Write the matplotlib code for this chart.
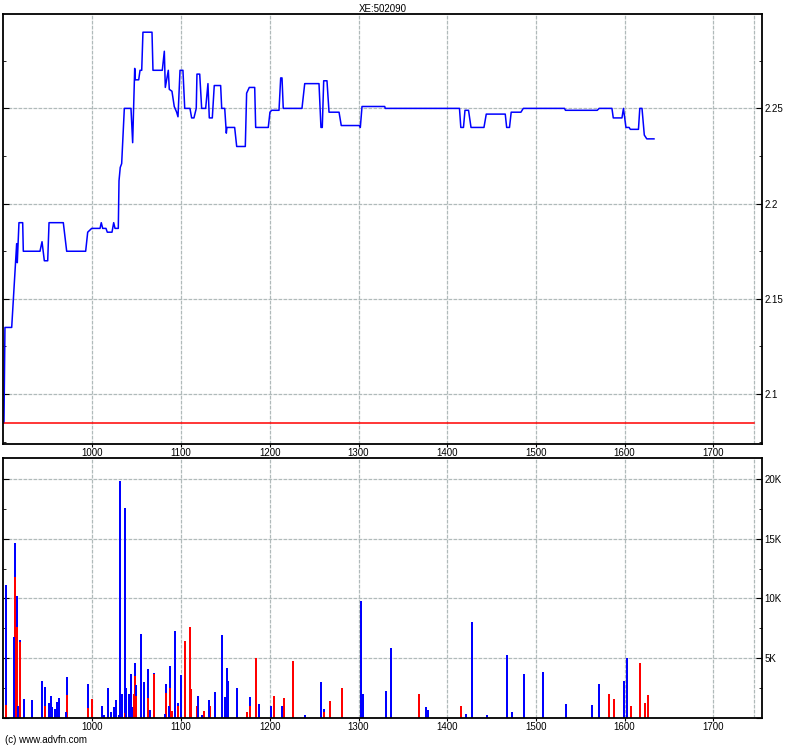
import numpy as np
import matplotlib.pyplot as plt
from matplotlib.ticker import MultipleLocator, FuncFormatter

# price line (x position, price)
price_x = [900.2, 901.3, 908.9, 914.5, 915.2, 917.1, 921.3, 922.0, 940.8, 943.1,
           945.7, 949.5, 951.0, 967.1, 970.9, 992.3, 994.6, 999.1, 1008.5, 1009.9,
           1011.5, 1015.2, 1016.7, 1022.0, 1023.9, 1025.4, 1029.1, 1029.9, 1031.3, 1032.9,
           1035.9, 1043.4, 1045.3, 1047.6, 1048.3, 1052.1, 1053.6, 1055.5, 1056.9, 1067.1,
           1068.2, 1078.7, 1081.0, 1082.1, 1085.5, 1086.6, 1089.6, 1092.2, 1094.9, 1096.4,
           1098.7, 1102.0, 1104.0, 1109.9, 1111.8, 1114.4, 1117.0, 1117.8, 1120.9, 1123.1,
           1127.6, 1130.2, 1131.7, 1135.1, 1137.3, 1144.5, 1145.7, 1149.1, 1150.9, 1151.6,
           1160.3, 1162.6, 1172.3, 1173.8, 1176.8, 1182.9, 1184.0, 1198.2, 1200.1, 1202.0,
           1210.3, 1212.2, 1213.7, 1215.1, 1236.2, 1239.3, 1255.4, 1257.6, 1259.1, 1260.7,
           1264.4, 1266.7, 1278.0, 1280.5, 1300.8, 1302.0, 1303.9, 1329.5, 1330.1, 1413.8,
           1415.3, 1418.3, 1420.0, 1424.0, 1426.8, 1441.4, 1444.0, 1465.4, 1467.0, 1470.2,
           1472.1, 1483.1, 1485.7, 1532.2, 1533.3, 1569.1, 1571.3, 1585.7, 1587.2, 1597.0,
           1598.7, 1601.5, 1605.1, 1606.4, 1615.6, 1617.1, 1619.6, 1622.2, 1625.0, 1633.1]
price_y = [2.085, 2.135, 2.135, 2.179, 2.169, 2.19, 2.19, 2.175, 2.175, 2.18,
           2.17, 2.17, 2.19, 2.19, 2.175, 2.175, 2.185, 2.187, 2.187, 2.19,
           2.187, 2.187, 2.185, 2.185, 2.19, 2.187, 2.187, 2.212, 2.219, 2.221,
           2.25, 2.25, 2.232, 2.271, 2.265, 2.265, 2.27, 2.27, 2.29, 2.29,
           2.27, 2.27, 2.28, 2.261, 2.27, 2.26, 2.259, 2.251, 2.248, 2.2456,
           2.27, 2.27, 2.25, 2.25, 2.245, 2.245, 2.25, 2.268, 2.268, 2.25,
           2.25, 2.263, 2.245, 2.245, 2.262, 2.262, 2.25, 2.25, 2.237, 2.24,
           2.24, 2.23, 2.23, 2.258, 2.261, 2.261, 2.24, 2.24, 2.248, 2.249,
           2.249, 2.266, 2.266, 2.25, 2.25, 2.263, 2.263, 2.24, 2.24, 2.2645,
           2.2645, 2.248, 2.248, 2.241, 2.241, 2.24, 2.251, 2.251, 2.25, 2.25,
           2.24, 2.24, 2.249, 2.249, 2.24, 2.24, 2.247, 2.247, 2.24, 2.24,
           2.248, 2.248, 2.25, 2.25, 2.249, 2.249, 2.25, 2.25, 2.245, 2.245,
           2.25, 2.24, 2.24, 2.239, 2.239, 2.25, 2.25, 2.236, 2.234, 2.234]
prev_close = 2.0846

# volume bars: red part at the bottom, blue part stacked on top
vol_x = [902.8, 911.9, 913.0, 915.2, 916.4, 918.6, 923.1, 932.2, 943.4, 946.8,
         951.3, 953.6, 954.7, 958.1, 960.3, 961.9, 970.5, 971.6, 995.3, 999.8,
         1011.1, 1013.3, 1017.8, 1021.2, 1024.6, 1026.9, 1030.3, 1031.4, 1033.6, 1036.6,
         1038.1, 1041.5, 1043.8, 1044.9, 1047.2, 1048.3, 1049.4, 1055.1, 1058.4, 1062.9,
         1065.2, 1069.7, 1082.1, 1083.2, 1086.6, 1087.8, 1090.0, 1093.4, 1096.8, 1100.2,
         1104.7, 1110.3, 1111.4, 1117.4, 1118.6, 1123.1, 1126.1, 1131.7, 1132.9, 1138.5,
         1146.4, 1149.0, 1150.1, 1152.0, 1153.2, 1163.3, 1174.6, 1178.0, 1184.7, 1188.1,
         1201.6, 1205.0, 1213.3, 1216.3, 1226.4, 1240.0, 1258.0, 1261.4, 1268.2, 1281.7,
         1303.1, 1305.4, 1331.3, 1336.9, 1368.5, 1376.4, 1378.6, 1415.8, 1421.5, 1428.2,
         1445.1, 1467.7, 1473.3, 1486.9, 1508.3, 1534.2, 1563.5, 1571.4, 1582.7, 1588.3,
         1599.6, 1603.0, 1607.5, 1617.6, 1623.3, 1626.7]
vol_red = [1064, 0, 11788, 7588, 0, 6384, 0, 0, 0, 980,
           0, 0, 0, 0, 0, 0, 0, 1904, 784, 1596,
           0, 0, 0, 0, 0, 0, 0, 0, 0, 364,
           0, 0, 0, 0, 1988, 3500, 1820, 0, 0, 1680,
           0, 3640, 0, 2044, 0, 2520, 588, 0, 980, 0,
           6440, 7616, 2408, 980, 0, 0, 560, 0, 980, 0,
           0, 0, 0, 0, 0, 0, 476, 980, 5012, 0,
           0, 1820, 0, 1652, 4760, 0, 0, 476, 1400, 2492,
           0, 0, 0, 0, 1988, 0, 0, 980, 0, 0,
           0, 0, 0, 0, 0, 0, 0, 0, 1988, 1568,
           0, 0, 980, 4592, 1232, 1904]
vol_blue = [10080, 6748, 2856, 2632, 980, 140, 1540, 1484, 3108, 1596,
            1260, 1820, 868, 756, 1344, 1652, 476, 1512, 2044, 0,
            980, 224, 2492, 476, 924, 1484, 196, 19852, 1988, 17192,
            2492, 1988, 3668, 924, 0, 1064, 924, 7028, 2996, 2408,
            644, 140, 308, 784, 980, 1820, 0, 7280, 224, 3584,
            0, 0, 0, 0, 1820, 224, 0, 1484, 0, 2156,
            6944, 1736, 644, 4172, 3080, 2492, 0, 756, 0, 1148,
            980, 0, 980, 0, 0, 224, 2996, 252, 0, 0,
            9800, 1988, 2240, 5852, 0, 896, 644, 0, 308, 8036,
            224, 5264, 476, 3668, 3836, 1148, 1064, 2828, 0, 0,
            3080, 5012, 0, 0, 0, 0]

x_ticks = [1000, 1100, 1200, 1300, 1400, 1500, 1600, 1700]
x_end = 1746

plt.rcParams['font.family'] = ['Liberation Sans', 'DejaVu Sans']
plt.rcParams['font.size'] = 7

fig = plt.figure(figsize=(8.0, 7.47), dpi=100)
ax1 = fig.add_axes([0.00375, 0.40562, 0.94875, 0.57524])
ax2 = fig.add_axes([0.00375, 0.03922, 0.94875, 0.34726])

grid_kw = dict(color='#b0baba', linestyle=(0, (3, 1)), linewidth=0.9)

for ax in (ax1, ax2):
    ax.set_xlim(899.1, 1754.9)
    ax.set_xticks(x_ticks)
    ax.grid(True, which='major', **grid_kw)
    ax.axvline(x_end, **grid_kw)
    ax.set_axisbelow(True)
    ax.yaxis.tick_right()
    ax.tick_params(axis='y', which='both', direction='in', left=True, right=True,
                   labelleft=False, labelright=True, pad=2)
    ax.tick_params(axis='y', which='major', length=4)
    ax.tick_params(axis='y', which='minor', length=2)
    ax.tick_params(axis='x', direction='out', length=2, pad=1)
    for s in ax.spines.values():
        s.set_linewidth(1.3)

ax1.plot(price_x, price_y, color='#0000ff', linewidth=1.1)
ax1.plot([price_x[0], x_end], [prev_close, prev_close], color='#ff0000', linewidth=1.1)
ax1.set_ylim(2.0738, 2.2994)
ax1.yaxis.set_major_locator(MultipleLocator(0.05))
ax1.yaxis.set_minor_locator(MultipleLocator(0.025))
ax1.yaxis.set_major_formatter(FuncFormatter(lambda v, p: f'{v:g}'))
ax1.set_title('XE:502090', fontsize=7, pad=2)

ax2.bar(vol_x, vol_red, width=2.0, color='#ff0000', linewidth=0)
ax2.bar(vol_x, vol_blue, width=2.0, bottom=vol_red, color='#0000ff', linewidth=0)
ax2.set_ylim(0, 21760)
ax2.yaxis.set_major_locator(MultipleLocator(5000))
ax2.yaxis.set_minor_locator(MultipleLocator(2500))
ax2.yaxis.set_major_formatter(FuncFormatter(lambda v, p: f'{v/1000:g}K' if v > 0 else ''))

fig.text(0.006, 1 - 740 / 747, '(c) www.advfn.com', fontsize=7, va='center', ha='left')

fig.savefig('out.png', dpi=100)
